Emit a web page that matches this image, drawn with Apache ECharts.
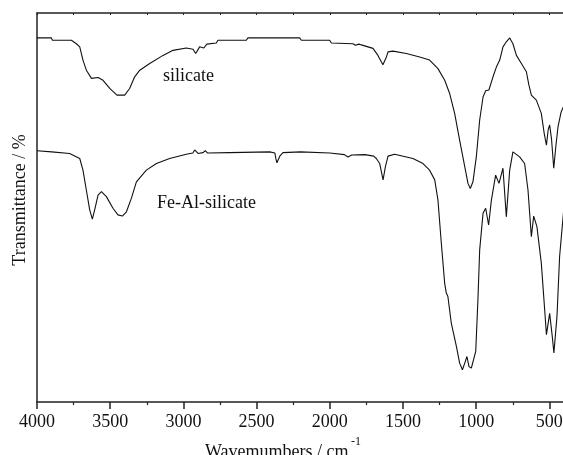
<!DOCTYPE html>
<html>
<head>
<meta charset="utf-8">
<script src="https://cdn.jsdelivr.net/npm/echarts@6/dist/echarts.min.js"></script>
<style>
html,body{margin:0;padding:0;background:#fff;}
#chart{width:563px;height:455px;}
</style>
</head>
<body>
<div id="chart"></div>
<script>
// Wavenumber (cm-1), transmittance (arbitrary %, offset traces)
const silicateWave = [4000,3902,3895,3765,3731,3708,3686,3663,3628,3583,3549,3503,3454,3401,3367,3333,3298,3230,3139,3071,2980,2934,2916,2889,2860,2840,2775,2764,2570,2559,2206,2194,2001,1989,1842,1825,1800,1784,1705,1671,1637,1613,1602,1591,1568,1477,1386,1318,1261,1215,1181,1147,1113,1078,1056,1040,1022,999,976,953,935,913,885,862,839,817,794,783,771,749,725,691,657,640,623,589,555,535,520,508,498,485,470,455,441,420,404,400];
const silicateT = [93.6,93.6,93.0,93.0,92.1,91.3,87.9,85.3,83.2,83.4,82.7,80.6,78.9,78.9,80.6,83.6,85.3,87.0,89.1,90.4,91.0,90.7,89.6,91.3,91.0,92.0,92.3,93.0,93.0,93.6,93.6,93.0,93.0,92.3,92.1,91.7,92.0,91.8,90.9,89.1,86.7,88.7,90.0,90.4,90.2,89.6,88.7,87.9,85.7,82.7,79.3,74.2,67.3,60.5,56.2,54.9,56.6,63.0,72.5,78.4,80.0,80.2,83.6,86.1,87.9,91.3,92.6,92.3,93.6,92.1,89.1,87.0,84.9,81.5,78.9,77.6,74.2,69.0,66.0,70.0,71.2,67.5,60.1,66.0,70.7,74.5,75.9,76.3];

const feAlWave = [4000,3900,3777,3708,3686,3663,3640,3622,3606,3583,3560,3526,3481,3447,3417,3389,3355,3321,3253,3184,3094,2980,2935,2923,2900,2866,2850,2835,2684,2410,2375,2368,2361,2352,2340,2320,2200,2000,1900,1876,1850,1760,1700,1682,1659,1636,1620,1602,1591,1557,1432,1363,1318,1283,1261,1238,1215,1204,1193,1170,1135,1113,1094,1078,1063,1049,1033,1003,988,976,953,935,915,896,867,844,817,794,771,749,703,669,646,623,607,585,555,532,520,498,480,469,448,430,404,400];
const feAlT = [64.6,64.3,63.9,62.6,59.6,54.5,49.4,47.0,49.4,53.2,54.1,52.8,49.8,48.1,47.8,48.9,52.4,56.6,59.6,61.3,62.6,63.7,64.0,64.8,63.9,64.1,64.6,64.0,64.1,64.3,64.0,62.5,61.5,62.0,63.3,64.1,64.3,64.0,63.6,63.0,63.5,63.6,63.2,62.6,61.3,57.1,60.5,63.2,63.5,63.7,62.6,61.3,59.6,57.1,51.9,40.8,30.5,28.0,27.1,20.3,14.3,10.0,8.3,10.0,11.7,9.1,8.7,13.0,26.3,39.1,48.5,49.8,45.5,51.9,58.3,56.2,60.1,47.6,59.6,64.3,63.0,61.3,54.5,42.5,47.8,45.1,35.7,23.7,17.3,22.8,16.8,12.6,22.0,37.4,48.5,50.0];

const majorTicks = [4000,3500,3000,2500,2000,1500,1000,500];
const minorTicks = [3750,3250,2750,2250,1750,1250,750];
const seriesNames = ['silicate','Fe-Al-silicate'];

const FONT = "'Liberation Serif','Times New Roman',serif";
const AX = '#222';

const pair = (xs, ys) => xs.map((x, i) => [x, ys[i]]);

const chart = echarts.init(document.getElementById('chart'), null, {renderer: 'canvas'});
chart.setOption({
  animation: false,
  backgroundColor: '#fff',
  grid: {left: 37, right: -1, top: 13, bottom: 53, containLabel: false, outerBoundsMode: 'none'},
  xAxis: [
    {
      type: 'value', inverse: true, min: 400, max: 4000, position: 'bottom',
      axisLine: {show: true, onZero: false, lineStyle: {color: AX, width: 1.5}},
      axisTick: {show: true, inside: false, length: 7, customValues: majorTicks, lineStyle: {color: AX, width: 1.5}},
      axisLabel: {show: true, customValues: majorTicks, margin: 11, fontFamily: FONT, fontSize: 18, color: '#111', formatter: v => String(v)},
      splitLine: {show: false}
    },
    {
      type: 'value', inverse: true, min: 400, max: 4000, position: 'bottom',
      axisLine: {show: false},
      axisTick: {show: true, inside: false, length: 3, customValues: minorTicks, lineStyle: {color: AX, width: 1.2}},
      axisLabel: {show: false},
      splitLine: {show: false}
    },
    {
      type: 'value', inverse: true, min: 400, max: 4000, position: 'top',
      axisLine: {show: true, onZero: false, lineStyle: {color: AX, width: 1.5}},
      axisTick: {show: true, inside: true, length: 2, customValues: majorTicks.concat(minorTicks), lineStyle: {color: AX, width: 1}},
      axisLabel: {show: false},
      splitLine: {show: false}
    }
  ],
  yAxis: {
    type: 'value', min: 0, max: 100,
    axisLine: {show: true, onZero: false, lineStyle: {color: AX, width: 1.5}},
    axisTick: {show: false},
    axisLabel: {show: false},
    splitLine: {show: false}
  },
  series: [
    {name: seriesNames[0], type: 'line', xAxisIndex: 0, data: pair(silicateWave, silicateT), showSymbol: false, symbol: 'none', smooth: false, lineStyle: {color: '#111', width: 1.1}},
    {name: seriesNames[1], type: 'line', xAxisIndex: 0, data: pair(feAlWave, feAlT), showSymbol: false, symbol: 'none', smooth: false, lineStyle: {color: '#111', width: 1.1}}
  ],
  graphic: [
    {type: 'text', x: 163, y: 76, silent: true, style: {text: seriesNames[0], font: '18px ' + FONT, fill: '#111', align: 'left', verticalAlign: 'middle', textAlign: 'left', textVerticalAlign: 'middle'}},
    {type: 'text', x: 157, y: 203, silent: true, style: {text: seriesNames[1], font: '18px ' + FONT, fill: '#111', align: 'left', verticalAlign: 'middle', textAlign: 'left', textVerticalAlign: 'middle'}},
    {type: 'text', x: 20.5, y: 200, rotation: Math.PI / 2, silent: true, style: {text: 'Transmittance / %', font: '18px ' + FONT, fill: '#111', align: 'center', verticalAlign: 'middle', textAlign: 'center', textVerticalAlign: 'middle'}},
    {type: 'text', x: 205, y: 452, silent: true, style: {text: 'Wavemumbers / cm', font: '18px ' + FONT, fill: '#111', align: 'left', verticalAlign: 'middle', textAlign: 'left', textVerticalAlign: 'middle'}},
    {type: 'text', x: 351, y: 442, silent: true, style: {text: '-1', font: '12px ' + FONT, fill: '#111', align: 'left', verticalAlign: 'middle', textAlign: 'left', textVerticalAlign: 'middle'}}
  ]
});
</script>
</body>
</html>
